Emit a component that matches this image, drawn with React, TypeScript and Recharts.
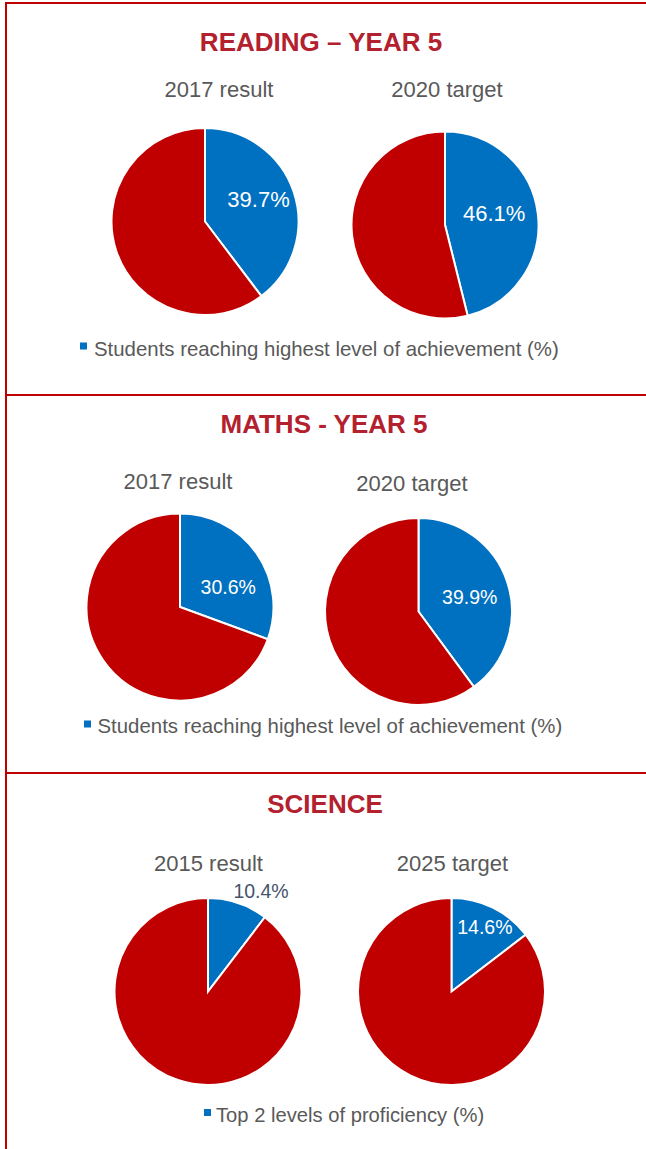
import React from 'react'
import { PieChart, Pie, Cell } from 'recharts'

// chart content
const SECTION_TITLES = ['READING – YEAR 5', 'MATHS - YEAR 5', 'SCIENCE']
const PERIODS = [
  ['2017 result', '2020 target'],
  ['2017 result', '2020 target'],
  ['2015 result', '2025 target'],
]
const REACHED = [
  [39.7, 46.1],
  [30.6, 39.9],
  [10.4, 14.6],
]
const OTHERS = [
  [60.3, 53.9],
  [69.4, 60.1],
  [89.6, 85.4],
]
const LEGEND_LABELS = [
  'Students reaching highest level of achievement (%)',
  'Students reaching highest level of achievement (%)',
  'Top 2 levels of proficiency (%)',
]

const BLUE = '#0070C0'
const RED = '#C00000'
const TITLE_RED = '#B3202E'
const GREY = '#595959'
const FONT = '"Liberation Sans", Arial, sans-serif'

// layout (px, relative to each section's top)
const SECTION_TOP = [0, 396, 774]
const SECTION_H = [394, 376, 375]
const PIE_CENTER = [
  [[205, 221.5], [445, 225]],
  [[180, 211], [418.5, 215.5]],
  [[208, 217.5], [451.5, 217.5]],
]
// label distance (fraction of radius) and clockwise shift from slice middle (deg)
const LABEL_POS = [
  [[0.62, -4], [0.54, -6]],
  [[0.56, 12], [0.57, 2]],
  [[1.22, 9], [0.78, 1]],
]
const LABEL_SIZE = [22, 19.5, 19.5]
const TITLE_POS = [[321, 51], [324, 37], [325, 39]]
const SUBTITLE_POS = [
  [[219, 97], [447, 97]],
  [[178, 93], [412, 95]],
  [[208.5, 97], [452.5, 97]],
]
const LEGEND_POS = [
  { sx: 80, sy: 342.5, tx: 94, ty: 356, size: 20.4 },
  { sx: 84, sy: 324.5, tx: 97.5, ty: 336.7, size: 20.4 },
  { sx: 204, sy: 335, tx: 216, ty: 347.7, size: 20.2 },
]
const RADIUS = 93.5

function makeLabel(section: number, pie: number) {
  const [frac, shift] = LABEL_POS[section][pie]
  return (props: any) => {
    if (props.index !== 0) return null
    const { cx, cy, midAngle, outerRadius, value } = props
    const a = ((midAngle - shift) * Math.PI) / 180
    const d = outerRadius * frac
    const x = cx + d * Math.cos(a)
    const y = cy - d * Math.sin(a)
    return (
      <text
        x={x}
        y={y}
        textAnchor="middle"
        dominantBaseline="central"
        fill={frac > 1 ? '#44546A' : '#ffffff'}
        fontSize={LABEL_SIZE[section]}
        fontFamily={FONT}
      >
        {`${value.toFixed(1)}%`}
      </text>
    )
  }
}

function Section({ s }: { s: number }) {
  const w = 646
  const h = SECTION_H[s]
  const leg = LEGEND_POS[s]
  return (
    <div style={{ position: 'absolute', left: 0, top: SECTION_TOP[s], width: w, height: h }}>
      <div style={{ position: 'absolute', left: 0, top: 0 }}>
        <PieChart width={w} height={h} margin={{ top: 0, right: 0, bottom: 0, left: 0 }}>
          {[0, 1].map(p => {
            const data = [
              { name: 'reached', value: REACHED[s][p] },
              { name: 'other', value: OTHERS[s][p] },
            ]
            return (
              <Pie
                key={p}
                data={data}
                dataKey="value"
                cx={PIE_CENTER[s][p][0]}
                cy={PIE_CENTER[s][p][1]}
                outerRadius={RADIUS}
                startAngle={90}
                endAngle={-270}
                stroke="#ffffff"
                strokeWidth={2}
                labelLine={false}
                label={makeLabel(s, p)}
                isAnimationActive={false}
              >
                <Cell fill={BLUE} />
                <Cell fill={RED} />
              </Pie>
            )
          })}
        </PieChart>
      </div>
      <svg
        width={w}
        height={h}
        style={{ position: 'absolute', left: 0, top: 0, pointerEvents: 'none' }}
        fontFamily={FONT}
      >
        <text
          x={TITLE_POS[s][0]}
          y={TITLE_POS[s][1]}
          textAnchor="middle"
          fontSize={26}
          fontWeight="bold"
          fill={TITLE_RED}
        >
          {SECTION_TITLES[s]}
        </text>
        {PERIODS[s].map((label, p) => (
          <text
            key={label + p}
            x={SUBTITLE_POS[s][p][0]}
            y={SUBTITLE_POS[s][p][1]}
            textAnchor="middle"
            fontSize={22}
            fill={GREY}
          >
            {label}
          </text>
        ))}
        <rect x={leg.sx} y={leg.sy} width={7} height={7} fill={BLUE} />
        <text x={leg.tx} y={leg.ty} fontSize={leg.size} fill={GREY}>
          {LEGEND_LABELS[s]}
        </text>
      </svg>
    </div>
  )
}

export default function App() {
  return (
    <div
      style={{
        position: 'absolute',
        left: 0,
        top: 0,
        width: 646,
        height: 1149,
        overflow: 'hidden',
        background: '#ffffff',
      }}
    >
      {/* red frame and dividers */}
      <div style={{ position: 'absolute', left: 5, top: 2, width: 2, height: 1147, background: RED }} />
      <div style={{ position: 'absolute', left: 5, top: 2, width: 641, height: 2, background: RED }} />
      <div style={{ position: 'absolute', left: 5, top: 394, width: 641, height: 2, background: RED }} />
      <div style={{ position: 'absolute', left: 5, top: 772, width: 641, height: 2, background: RED }} />
      {[0, 1, 2].map(s => (
        <Section key={s} s={s} />
      ))}
    </div>
  )
}
